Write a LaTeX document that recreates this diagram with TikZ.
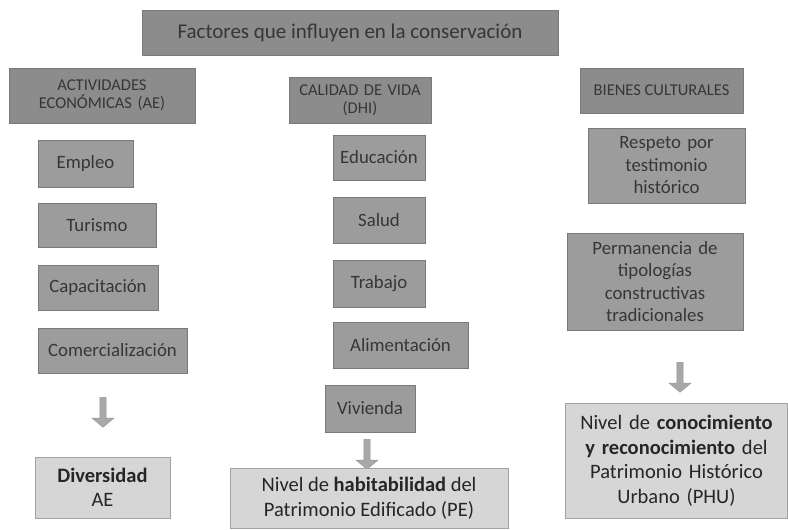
\documentclass[tikz,border=0pt]{standalone}
\usepackage{fontspec}
\setmainfont{Carlito}
\usetikzlibrary{shapes.arrows}
\definecolor{hdrfill}{HTML}{8C8C8C}
\definecolor{itemfill}{HTML}{9C9C9C}
\definecolor{resfill}{HTML}{D6D6D6}
\definecolor{edge}{HTML}{7A7A7A}
\definecolor{txtdark}{HTML}{363636}
\definecolor{arrowfill}{HTML}{A8A8A8}
\tikzset{
  basebox/.style={draw=edge, line width=0.8pt, align=center, inner sep=2pt, anchor=center},
  hdrbox/.style={basebox, fill=hdrfill, text=txtdark, font=\fontsize{16.5}{18}\selectfont},
  titlebox/.style={basebox, fill=hdrfill, text=txtdark, font=\fontsize{21}{24}\selectfont},
  itembox/.style={basebox, fill=itemfill, text=txtdark, font=\fontsize{18.8}{22.5}\selectfont},
  resbox/.style={basebox, fill=resfill, draw=edge!70, text=black!85, font=\fontsize{20.5}{24.5}\selectfont},
  downarrow/.style={single arrow, draw=edge!80, fill=arrowfill, shape border rotate=270,
    minimum width=22pt, minimum height=30pt, single arrow head extend=3pt, single arrow tip angle=100, inner sep=1pt}
}
\begin{document}
\begin{tikzpicture}[x=1pt,y=-1pt]
\useasboundingbox (0,0) rectangle (788,530);
% title
\node[titlebox, minimum width=416pt, minimum height=45pt] (title) at (350,32.5) {Factores que influyen en la conservación};
% left column
\node[hdrbox, minimum width=186pt, minimum height=55pt, text width=180pt] (ae) at (102,95.5) {ACTIVIDADES\\ECONÓMICAS (AE)};
\node[itembox, minimum width=95pt, minimum height=47pt] (empleo) at (85.5,163.5) {Empleo};
\node[itembox, minimum width=118pt, minimum height=44pt] (turismo) at (97,225) {Turismo};
\node[itembox, minimum width=120pt, minimum height=45pt] (capac) at (98,287.5) {Capacitación};
\node[itembox, minimum width=149pt, minimum height=45pt] (comer) at (112.5,350.5) {Comercialización};
\node[downarrow] (arrae) at (103,411) {};
\node[resbox, minimum width=135pt, minimum height=61pt] (divers) at (102.5,487.5) {\textbf{Diversidad}\\AE};
% middle column
\node[hdrbox, minimum width=140pt, minimum height=46pt, text width=138pt] (dhi) at (360,100) {CALIDAD DE VIDA\\(DHI)};
\node[itembox, minimum width=92pt, minimum height=45pt] (educ) at (379,157.5) {Educación};
\node[itembox, minimum width=92pt, minimum height=46pt] (salud) at (379,220) {Salud};
\node[itembox, minimum width=92pt, minimum height=47pt] (trab) at (379,283.5) {Trabajo};
\node[itembox, minimum width=135pt, minimum height=46pt] (alim) at (400.5,345) {Alimentación};
\node[itembox, minimum width=90pt, minimum height=47pt] (viv) at (370,408.5) {Vivienda};
\node[downarrow] (arrdhi) at (367,453) {};
\node[resbox, minimum width=278pt, minimum height=60pt] (habit) at (369,498) {Nivel de \textbf{habitabilidad} del\\Patrimonio Edificado (PE)};
% right column
\node[hdrbox, minimum width=163pt, minimum height=45pt] (bc) at (661.5,90.5) {BIENES CULTURALES};
\node[itembox, minimum width=157pt, minimum height=75pt, text width=150pt] (resp) at (666.5,165.5) {Respeto por\\testimonio\\histórico};
\node[itembox, minimum width=176pt, minimum height=97pt, text width=170pt] (perm) at (655,281.5) {Permanencia de\\tipologías\\constructivas\\tradicionales};
\node[downarrow] (arrbc) at (680,376) {};
\node[resbox, minimum width=222pt, minimum height=115pt, text width=218pt] (conoc) at (676.5,460.5) {Nivel de \textbf{conocimiento}\\\textbf{y reconocimiento} del\\Patrimonio Histórico\\Urbano (PHU)};
\end{tikzpicture}
\end{document}
